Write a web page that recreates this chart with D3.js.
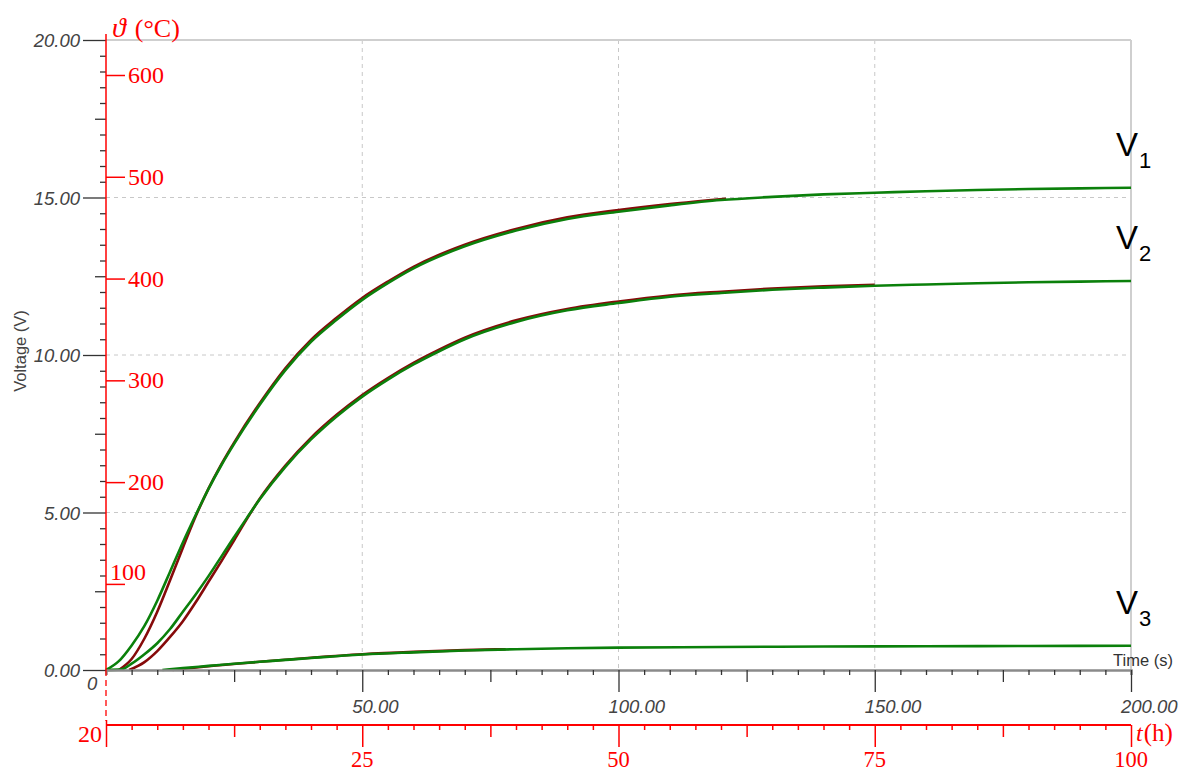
<!DOCTYPE html>
<html>
<head>
<meta charset="utf-8">
<script src="https://d3js.org/d3.v7.min.js"></script>
<style>
  body { margin: 0; background: #fff; }
  svg { display: block; }
  .sans { font-family: "Liberation Sans", Arial, sans-serif; }
  .serif { font-family: "Liberation Serif", "Times New Roman", "DejaVu Serif", serif; }
</style>
</head>
<body>
<div id="content"></div>
<script>
// V1 (green, fit) and V1 (dark red, measured)
const timeV1Green = [0,2.5,5,7.5,10,12.5,15,17.5,20,22.5,25,30,35,40,45,50,55,60,70,80,90,100,110,120,130,140,150,160,170,180,190,200];
const voltV1Green = [0,0.28,0.78,1.4,2.2,3.12,4.05,4.92,5.75,6.5,7.18,8.42,9.52,10.42,11.12,11.75,12.28,12.75,13.45,13.95,14.32,14.55,14.75,14.92,15.02,15.1,15.15,15.2,15.24,15.27,15.29,15.31];
const timeV1Red = [2.5,5,7.5,10,12.5,15,17.5,20,22.5,25,30,35,40,45,50,55,60,70,80,90,100,110,121];
const voltV1Red = [0,0.35,1.0,1.85,2.85,3.88,4.88,5.76,6.53,7.22,8.47,9.58,10.48,11.18,11.81,12.33,12.8,13.5,14.0,14.37,14.6,14.79,14.96];

// V2
const timeV2Green = [0,3,5,7.5,10,12.5,15,17.5,20,22.5,25,27.5,30,35,40,45,50,55,60,65,70,80,90,100,110,120,130,140,150,160,170,180,190,200];
const voltV2Green = [0,0.02,0.2,0.5,0.85,1.3,1.85,2.4,2.98,3.6,4.22,4.83,5.42,6.45,7.32,8.05,8.68,9.22,9.7,10.12,10.5,11.05,11.42,11.65,11.85,11.97,12.07,12.14,12.2,12.24,12.28,12.31,12.33,12.35];
const timeV2Red = [4.5,7.5,10,12.5,15,17.5,20,22.5,25,27.5,30,35,40,45,50,55,60,65,70,80,90,100,110,120,130,140,150];
const voltV2Red = [0,0.25,0.6,1.05,1.55,2.15,2.8,3.45,4.12,4.8,5.44,6.49,7.37,8.1,8.73,9.27,9.75,10.17,10.55,11.1,11.46,11.7,11.89,12.01,12.11,12.18,12.23];

// V3
const timeV3Green = [11,15,20,25,30,35,40,50,60,70,80,90,100,120,140,160,180,200];
const voltV3Green = [0,0.06,0.13,0.2,0.26,0.32,0.38,0.49,0.56,0.62,0.66,0.69,0.71,0.73,0.745,0.755,0.762,0.77];
const timeV3Red = [13,20,30,40,50,60,70,78];
const voltV3Red = [0,0.12,0.26,0.39,0.5,0.575,0.63,0.66];

const seriesNames = ["1","2","3"];
const voltTickLabels = [0,5,10,15,20];
const timeTickLabels = [50,100,150,200];
const tempTicks = [100,200,300,400,500,600];
const hourTickLabels = [25,50,75,100];

const W = 1190, H = 771;
const mLeft = 106, mRight = 1131, mTop = 40, mBottom = 670;
const GREEN = "#0b800b", DARKRED = "#860a0a", RED = "#ff0000";

const svg = d3.select("#content").append("svg")
    .attr("width", W).attr("height", H);

const x = d3.scaleLinear().domain([0,200]).range([mLeft,mRight]);
const y = d3.scaleLinear().domain([0,20]).range([mBottom,mTop]);
const hrs = d3.scaleLinear().domain([0,100]).range([mLeft,mRight]);
const temp = d3.scaleLinear().domain([100,600]).range([583.9,75]);

// grid
svg.append("g").selectAll("line")
    .data([5,10,15]).enter().append("line")
    .attr("x1",mLeft).attr("x2",mRight)
    .attr("y1",d=>y(d)).attr("y2",d=>y(d))
    .style("stroke","#c8c8c8").style("stroke-dasharray","4,4");
svg.append("g").selectAll("line")
    .data([50,100,150]).enter().append("line")
    .attr("x1",d=>x(d)).attr("x2",d=>x(d))
    .attr("y1",mTop).attr("y2",mBottom)
    .style("stroke","#c8c8c8").style("stroke-dasharray","4,4");
svg.append("line").attr("x1",mLeft).attr("x2",mRight).attr("y1",mTop).attr("y2",mTop)
    .style("stroke","#cfcfcf").style("stroke-width",2);
svg.append("line").attr("x1",mRight).attr("x2",mRight).attr("y1",mTop).attr("y2",mBottom)
    .style("stroke","#cfcfcf").style("stroke-width",2);

// curves
const line = d3.line().x(d=>x(d[0])).y(d=>y(d[1])).curve(d3.curveMonotoneX);
const zip = (a,b)=>a.map((t,i)=>[t,b[i]]);
const redCurves = [zip(timeV1Red,voltV1Red), zip(timeV2Red,voltV2Red), zip(timeV3Red,voltV3Red)];
const greenCurves = [zip(timeV1Green,voltV1Green), zip(timeV2Green,voltV2Green), zip(timeV3Green,voltV3Green)];

svg.append("g").selectAll("path").data(redCurves).enter().append("path")
    .attr("d",line).style("fill","none").style("stroke",DARKRED).style("stroke-width",2.6);
svg.append("g").selectAll("path").data(greenCurves).enter().append("path")
    .attr("d",line).style("fill","none").style("stroke",GREEN).style("stroke-width",2.6);

// curve labels
const labels = svg.append("g").selectAll("text").data(greenCurves).enter().append("text")
    .attr("class","sans")
    .attr("x",1116)
    .attr("y",d=>y(d[d.length-1][1])-32)
    .style("font-size","33px").style("fill","#000");
labels.append("tspan").text("V");
labels.append("tspan").attr("dx",1).attr("dy",12).style("font-size","22px")
    .text((d,i)=>seriesNames[i]);

// black time axis
const xAxis = svg.append("g").attr("transform",`translate(0,${mBottom})`)
    .call(d3.axisBottom(x).tickValues(d3.range(0,201,5)).tickSize(5).tickFormat(""));
xAxis.select(".domain").style("stroke","#8a8a8a").style("stroke-width",2.5);
xAxis.selectAll(".tick line")
    .attr("y2",d=>d%50===0?22:(d%25===0?12:5))
    .style("stroke","#333").style("stroke-width",1.3);
xAxis.selectAll(".tick").filter(d=>d===0).select("line").remove();
svg.append("g").selectAll("text").data(timeTickLabels).enter().append("text")
    .attr("class","sans")
    .attr("x",d=>x(d)-10).attr("y",713)
    .style("font-size","18.5px").style("font-style","italic").style("fill","#444")
    .text(d=>d.toFixed(2));
svg.append("text").attr("class","sans").attr("x",87).attr("y",690)
    .style("font-size","18.5px").style("font-style","italic").style("fill","#444").text("0");
svg.append("text").attr("class","sans").attr("x",1113).attr("y",666)
    .style("font-size","16.5px").style("fill","#333").text("Time (s)");

// black voltage axis
const yAxis = svg.append("g").attr("transform",`translate(${mLeft},0)`)
    .call(d3.axisLeft(y).tickValues(d3.range(0,20.01,0.5)).tickSize(6).tickFormat(""));
yAxis.select(".domain").remove();
yAxis.selectAll(".tick line")
    .attr("x2",d=>d%5===0?-23:(d%2.5===0?-11:-6))
    .style("stroke","#333").style("stroke-width",1.3);
svg.append("g").selectAll("text").data(voltTickLabels).enter().append("text")
    .attr("class","sans")
    .attr("x",80).attr("y",d=>y(d)+7)
    .attr("text-anchor","end")
    .style("font-size","18.5px").style("font-style","italic").style("fill","#444")
    .text(d=>d.toFixed(2));
svg.append("text").attr("class","sans")
    .attr("transform","translate(26,351) rotate(-90)")
    .attr("text-anchor","middle")
    .style("font-size","16.5px").style("fill","#444").text("Voltage (V)");

// red temperature axis
svg.append("line").attr("x1",mLeft).attr("x2",mLeft).attr("y1",34).attr("y2",mBottom)
    .style("stroke",RED).style("stroke-width",1.5);
svg.append("line").attr("x1",mLeft).attr("x2",mLeft).attr("y1",mBottom).attr("y2",721)
    .style("stroke",RED).style("stroke-width",1.3).style("stroke-dasharray","6,4");
const tAxis = svg.append("g").attr("transform",`translate(${mLeft},0)`)
    .call(d3.axisRight(temp).tickValues(tempTicks).tickSize(19).tickFormat(""));
tAxis.select(".domain").remove();
tAxis.selectAll(".tick line").style("stroke",RED).style("stroke-width",1.5);
svg.append("g").selectAll("text").data(tempTicks).enter().append("text")
    .attr("class","serif")
    .attr("x",d=>d===100?110:128)
    .attr("y",d=>d===100?temp(d)-4:temp(d)+8)
    .style("font-size","24px").style("fill",RED)
    .text(d=>d);
const thetaLabel = svg.append("text").attr("class","serif").attr("x",112).attr("y",37)
    .style("font-size","26px").style("fill",RED);
thetaLabel.append("tspan").style("font-style","italic").style("font-size","28px").text("\u03D1");
thetaLabel.append("tspan").attr("dx",9).text("(\u00B0C)");

// red hours axis
const hAxis = svg.append("g").attr("transform","translate(0,725)")
    .call(d3.axisBottom(hrs).tickValues(d3.range(0,100.01,2.5)).tickSize(5).tickFormat(""));
hAxis.select(".domain").attr("d",`M${mLeft},0H${mRight}`).style("stroke",RED).style("stroke-width",2.2);
hAxis.selectAll(".tick line")
    .attr("y2",d=>d%25===0?22:(d%12.5===0?12:5))
    .style("stroke",RED).style("stroke-width",1.5);
hAxis.selectAll(".tick").filter(d=>d===0).select("line").attr("y1",-5);
svg.append("g").selectAll("text").data(hourTickLabels).enter().append("text")
    .attr("class","serif")
    .attr("x",d=>hrs(d)).attr("y",767)
    .attr("text-anchor","middle")
    .style("font-size","22.5px").style("fill",RED)
    .text(d=>d);
svg.append("text").attr("class","serif").attr("x",102).attr("y",742)
    .attr("text-anchor","end")
    .style("font-size","24px").style("fill",RED).text("20");
const hLabel = svg.append("text").attr("class","serif").attr("x",1136).attr("y",741)
    .style("fill",RED);
hLabel.append("tspan").style("font-style","italic").style("font-size","24px").text("t");
hLabel.append("tspan").style("font-size","25px").attr("dx",1).text("(h)");
</script>
</body>
</html>
